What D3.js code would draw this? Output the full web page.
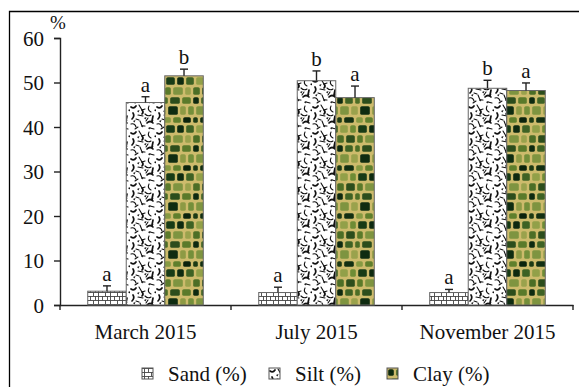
<!DOCTYPE html>
<html><head><meta charset="utf-8">
<script src="https://cdn.jsdelivr.net/npm/d3@7"></script>
</head>
<body style="margin:0"><svg id="c" width="579" height="387"></svg>
<script>
const categories = ["March 2015","July 2015","November 2015"];
const seriesNames = ["Sand (%)","Silt (%)","Clay (%)"];
const sand = [3.1, 2.8, 2.8];
const silt = [45.5, 50.4, 48.7];
const clay = [51.5, 46.6, 48.2];
const sandErr = [1.2, 1.2, 0.7];
const siltErr = [1.3, 2.2, 1.8];
const clayErr = [1.5, 2.6, 1.7];
const sandLetters = ["a","a","a"];
const siltLetters = ["a","b","b"];
const clayLetters = ["b","a","a"];
const yTicks = [0,10,20,30,40,50,60];

const svg = d3.select("#c");
const label = (sel) => sel.style("font-family",'"Times New Roman"');

svg.append("path").attr("d","M9.5,400V11.5H590").attr("stroke","#000").attr("stroke-width",1.3).attr("fill","none");

const x0 = d3.scaleBand().domain(categories).range([60,573]).paddingInner(0).paddingOuter(0);
const x1 = d3.scaleBand().domain(seriesNames).range([0,x0.bandwidth()]).paddingInner(0).paddingOuter(0.72);
const y = d3.scaleLinear().domain([0,60]).range([305,38]);

const vals = [sand, silt, clay];
const errs = [sandErr, siltErr, clayErr];
const lets = [sandLetters, siltLetters, clayLetters];
const data = [];
categories.forEach((c,ci)=>seriesNames.forEach((s,si)=>data.push({c,s,si,v:vals[si][ci],e:errs[si][ci],l:lets[si][ci]})));
const cx = d=>x0(d.c)+x1(d.s)+x1.bandwidth()/2;

const ya = svg.append("g").attr("transform","translate(60,0)")
  .call(d3.axisLeft(y).tickValues(yTicks).tickSize(6).tickPadding(10));
ya.attr("font-family","Times New Roman").attr("font-size",null);
ya.selectAll("text").attr("font-size",21).call(label).attr("fill","#111").attr("dy","0.34em");
ya.select(".domain").attr("stroke","#222").attr("stroke-width",1.4);
ya.selectAll(".tick line").attr("stroke","#222").attr("stroke-width",1.4);

const xa = svg.append("g").attr("transform","translate(0,305)")
  .call(d3.axisBottom(x0).tickSize(0).tickPadding(19));
xa.attr("font-family","Times New Roman").attr("font-size",null);
xa.selectAll("text").attr("font-size",21).call(label).attr("fill","#111");
xa.select(".domain").attr("stroke","#222").attr("stroke-width",1.4);
const bounds = [60,231,402,573];
xa.selectAll("line.bt").data(bounds).join("line").attr("class","bt")
  .attr("x1",d=>d).attr("x2",d=>d).attr("y1",0).attr("y2",5).attr("stroke","#222").attr("stroke-width",1.4);

svg.append("text").attr("x",50).attr("y",29).attr("font-size",19).call(label).attr("fill","#111").text("%");

const defs = svg.append("defs");
const ps = defs.append("pattern").attr("id","pSand").attr("patternUnits","userSpaceOnUse").attr("width",12).attr("height",8);
ps.append("rect").attr("width",12).attr("height",8).attr("fill","#fff");
ps.append("path").attr("d","M0,0.5H12M0,4.5H12M2.5,0V8M6.5,0V4.5M9.5,4.5V8M11.5,0V4.5").attr("stroke","#444").attr("stroke-width",0.9).attr("fill","none");

const pt = defs.append("pattern").attr("id","pSilt").attr("patternUnits","userSpaceOnUse").attr("width",26).attr("height",26);
pt.append("rect").attr("width",26).attr("height",26).attr("fill","#fff");
const squig = ["M1,3 q3,2 5,-1","M9,1 l3,5 l3,-1","M19,2 q-2,4 2,6","M3,9 q2,3 -1,6","M8,11 l5,1","M15,10 q3,3 6,1","M23,12 l-1,5","M1,20 q4,-1 5,3","M10,17 l2,5 l3,0","M17,19 q3,-3 6,0","M20,24 l4,1","M5,25 l3,-2","M12,6 q2,2 0,4","M6,15 l3,1","M18,14 l-2,3"];
squig.forEach((d,i)=>pt.append("path").attr("d",d).attr("stroke","#111").attr("stroke-width", i%3===0?1.7:1.1).attr("fill","none").attr("stroke-linecap","round"));
[[7,7],[14,14],[3,17],[24,6],[18,24],[11,22],[21,17]].forEach(p=>pt.append("path").attr("d",`M${p[0]},${p[1]} l2.5,-1 l-1,2.5z`).attr("fill","#111"));

const pc = defs.append("pattern").attr("id","pClay").attr("patternUnits","userSpaceOnUse").attr("width",48).attr("height",48);
pc.append("rect").attr("width",48).attr("height",48).attr("fill","#cdbb6c");
const greens = ["#0e2a10","#5f7f2c","#8d9a44","#2c4d1c","#6e8c35","#122f12","#9aa24c","#3e6224","#0b230c","#748f3a","#5a7a2a","#183b16","#869a42","#0f2c11","#4c6e26","#92a048","#1c3a14","#7e9440"];
const rowH = [9,11,8,10,10];
const rowW = [[8,10,7,12,11],[11,9,12,8,8],[7,12,9,10,10],[10,8,11,9,10],[9,11,8,12,8]];
let yy=0, k=0;
rowH.forEach((h,r)=>{ let xx=(r%2)*3; rowW[r].forEach(w=>{
  pc.append("rect").attr("x",xx+1.2).attr("y",yy+1.2).attr("width",w-2.4).attr("height",h-2.4).attr("rx",1.6)
    .attr("fill",greens[(k*7)%greens.length]);
  if(xx+w>48) pc.append("rect").attr("x",xx-48+1.2).attr("y",yy+1.2).attr("width",w-2.4).attr("height",h-2.4).attr("rx",1.6).attr("fill",greens[(k*7)%greens.length]);
  xx+=w; k++; }); yy+=h; });
const fills = ["url(#pSand)","url(#pSilt)","url(#pClay)"];

const g = svg.append("g");
g.selectAll("rect.bar").data(data).join("rect").attr("class","bar")
  .attr("x",d=>x0(d.c)+x1(d.s)).attr("y",d=>y(d.v))
  .attr("width",x1.bandwidth()).attr("height",d=>y(0)-y(d.v))
  .attr("fill",d=>fills[d.si]).attr("stroke","#666").attr("stroke-width",1);

const eb = g.selectAll("g.err").data(data).join("g").attr("class","err");
eb.append("line").attr("x1",cx).attr("x2",cx)
  .attr("y1",d=>y(d.v)).attr("y2",d=>y(d.v+d.e)).attr("stroke","#222").attr("stroke-width",1.4);
eb.append("line").attr("x1",d=>cx(d)-4).attr("x2",d=>cx(d)+4)
  .attr("y1",d=>y(d.v+d.e)).attr("y2",d=>y(d.v+d.e)).attr("stroke","#222").attr("stroke-width",1.4);
eb.append("text").attr("x",cx).attr("y",d=>y(d.v+d.e)-5)
  .attr("text-anchor","middle").attr("font-size",21).call(label).attr("fill","#111").text(d=>d.l);

const legX = [142,269,387];
const lg = svg.selectAll("g.leg").data(seriesNames).join("g").attr("class","leg")
  .attr("transform",(d,i)=>`translate(${legX[i]},368)`);
lg.append("rect").attr("width",11).attr("height",11).attr("fill",(d,i)=>fills[i]).attr("stroke","#555").attr("stroke-width",1);
lg.append("text").attr("x",26).attr("y",13).attr("font-size",21).call(label).attr("fill","#111").text(d=>d);
</script></body></html>
